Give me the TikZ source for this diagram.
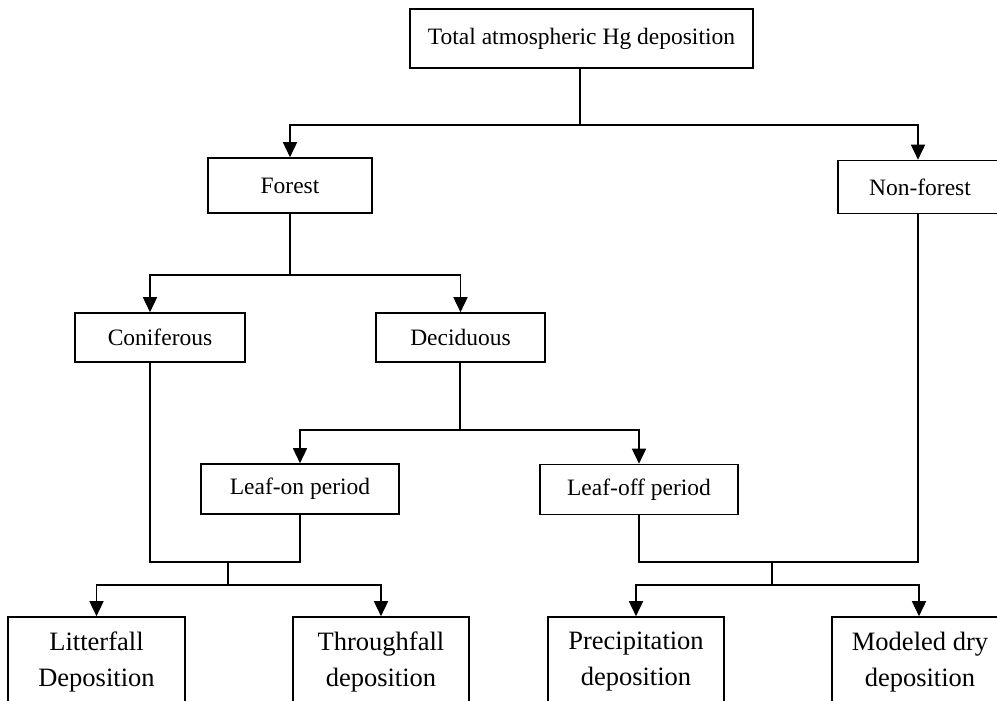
\documentclass[tikz,border=0pt]{standalone}
\usepackage{fontspec}
\setmainfont{Liberation Serif}
\usetikzlibrary{arrows.meta,calc}

\begin{document}
\begin{tikzpicture}[x=1pt,y=-1pt,>={Triangle[length=15pt,width=14pt]},
  line width=1.6pt,
  block/.style={draw, inner sep=0pt, minimum height=49pt, font=\fontsize{23.5}{28}\selectfont},
  leaf/.style={draw, inner sep=0pt, minimum height=90pt, align=center, font=\fontsize{26.5}{36}\selectfont}]
  \useasboundingbox (0,0) rectangle (997,701);

  \node[block,minimum width=343pt,minimum height=59pt] (total) at (581.5,38.5) {Total atmospheric Hg deposition};
  \node[block,minimum width=164pt,minimum height=55pt] (forest) at (290,185.5) {Forest};
  \node[block,minimum width=164pt,minimum height=53pt] (nonforest) at (920,187) {Non-forest};
  \node[block,minimum width=170pt] (coniferous) at (160,337.5) {Coniferous};
  \node[block,minimum width=169pt] (deciduous) at (460.5,337.5) {Deciduous};
  \node[block,minimum width=198pt,minimum height=50pt] (leafon) at (300,489) {Leaf-on period};
  \node[block,minimum width=198pt,minimum height=50pt] (leafoff) at (639,489.5) {Leaf-off period};

  \node[leaf,minimum width=177pt] (litter) at (96.5,662) {Litterfall\\Deposition};
  \node[leaf,minimum width=176pt] (through) at (381,662) {Throughfall\\deposition};
  \node[leaf,minimum width=176pt] (precip) at (636,662) {Precipitation\\deposition};
  \node[leaf,minimum width=176pt] (modeled) at (920,662) {Modeled dry\\deposition};

  \coordinate (j1) at (580,125);
  \coordinate (j2) at (290,275);
  \coordinate (j3) at (460,430);
  \coordinate (m1) at (228,562);
  \coordinate (b1) at (228,585);
  \coordinate (m2) at (772,562);
  \coordinate (b2) at (772,585);

  \draw (total.south -| j1) -- (j1);
  \draw[->] (j1) -| (forest.north);
  \draw[->] (j1) -| ([xshift=-2pt]nonforest.north);
  \draw (forest.south) -- (j2);
  \draw[->] (j2) -| ([xshift=-10pt]coniferous.north);
  \draw[->] (j2) -| (deciduous.north);
  \draw (deciduous.south -| j3) -- (j3);
  \draw[->] (j3) -| (leafon.north);
  \draw[->] (j3) -| (leafoff.north);

  % merge into the deposition types
  \draw ([xshift=-10pt]coniferous.south) |- (m1) -| (leafon.south);
  \draw (m1) -- (b1);
  \draw[->] (b1) -| (litter.north);
  \draw[->] (b1) -| (through.north);
  \draw (leafoff.south) |- (m2) -| ([xshift=-2pt]nonforest.south);
  \draw (m2) -- (b2);
  \draw[->] (b2) -| (precip.north);
  \draw[->] (b2) -| ([xshift=-1pt]modeled.north);
\end{tikzpicture}
\end{document}
